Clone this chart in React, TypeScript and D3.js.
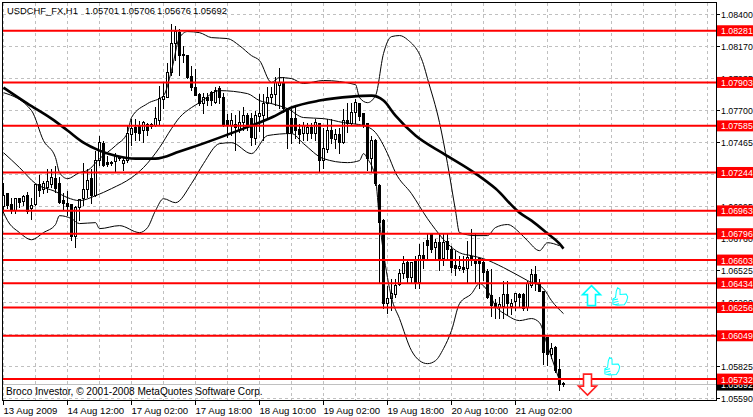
import React from 'react';
import * as d3 from 'd3';

const WIDTH = 753;
const HEIGHT = 417;

const opens = [
  1.06994, 1.07089, 1.07009, 1.06965, 1.07052, 1.07031, 1.07074, 1.06979, 1.07009, 1.07156,
  1.07119, 1.07134, 1.07156, 1.07199, 1.07163, 1.07038, 1.07016, 1.07009, 1.06775, 1.06987,
  1.07052, 1.07119, 1.07199, 1.07074, 1.07331, 1.07455, 1.07316, 1.07316, 1.07324, 1.07345,
  1.07309, 1.07331, 1.07522, 1.07573, 1.07587, 1.07551, 1.07595, 1.0758, 1.07587, 1.07624,
  1.07777, 1.07792, 1.07975, 1.08187, 1.08267, 1.08099, 1.08099, 1.07946, 1.07866, 1.07814,
  1.07748, 1.07792, 1.07828, 1.07755, 1.07858, 1.07792, 1.07624, 1.07587, 1.07595, 1.07551,
  1.07609, 1.0766, 1.07638, 1.07492, 1.07653, 1.0766, 1.07748, 1.07792, 1.07814, 1.0788,
  1.07902, 1.07711, 1.07638, 1.07638, 1.07558, 1.07529, 1.07529, 1.07573, 1.07529, 1.07602,
  1.07331, 1.07411, 1.07551, 1.07485, 1.07522, 1.07462, 1.07624, 1.07602, 1.07682, 1.07748,
  1.07675, 1.07602, 1.07345, 1.07477, 1.07148, 1.06892, 1.06284, 1.0632, 1.0635, 1.06424,
  1.06504, 1.06584, 1.06475, 1.06592, 1.06438, 1.06635, 1.06745, 1.06797, 1.06694, 1.0673,
  1.06613, 1.06738, 1.06679, 1.06562, 1.0654, 1.06548, 1.0654, 1.06628, 1.06606, 1.06613,
  1.06584, 1.06519, 1.06342, 1.06284, 1.06255, 1.06262, 1.0635, 1.06262, 1.06299, 1.0635,
  1.0635, 1.06255, 1.06416, 1.06497, 1.06431, 1.06372, 1.06036, 1.05911, 1.05962, 1.05801, 1.05699,
];

const closes = [
  1.07074, 1.07001, 1.06965, 1.07052, 1.07023, 1.07067, 1.06958, 1.07001, 1.07156, 1.07111,
  1.07163, 1.07178, 1.07206, 1.07126, 1.07023, 1.07016, 1.06994, 1.06775, 1.06987, 1.07045,
  1.07119, 1.07185, 1.07074, 1.07331, 1.07462, 1.07294, 1.07302, 1.07309, 1.07367, 1.07353,
  1.07331, 1.07529, 1.07565, 1.07536, 1.07529, 1.07609, 1.07551, 1.07595, 1.07638, 1.07784,
  1.07799, 1.07975, 1.08187, 1.08275, 1.08099, 1.08107, 1.07939, 1.07866, 1.07806, 1.07748,
  1.07792, 1.0777, 1.0777, 1.07843, 1.07792, 1.07595, 1.07587, 1.07624, 1.07573, 1.07609,
  1.0766, 1.07587, 1.07499, 1.0766, 1.07675, 1.07748, 1.07792, 1.07814, 1.07902, 1.07902,
  1.07711, 1.07529, 1.07536, 1.07551, 1.07522, 1.07587, 1.07573, 1.07529, 1.07609, 1.07331,
  1.07419, 1.07551, 1.07492, 1.07522, 1.07462, 1.07624, 1.07602, 1.07682, 1.07755, 1.07653,
  1.07587, 1.07345, 1.07477, 1.07163, 1.06877, 1.06284, 1.0632, 1.06357, 1.06416, 1.06504,
  1.06577, 1.06475, 1.06584, 1.06438, 1.06635, 1.06606, 1.06708, 1.06679, 1.0673, 1.06613,
  1.0673, 1.06679, 1.06548, 1.0654, 1.06555, 1.06533, 1.06621, 1.06599, 1.06577, 1.06577,
  1.06511, 1.06328, 1.06269, 1.06255, 1.06277, 1.0635, 1.06284, 1.06284, 1.06357, 1.06328,
  1.06248, 1.06431, 1.06497, 1.06431, 1.06372, 1.05925, 1.05911, 1.05955, 1.05794, 1.05692, 1.05692,
];

const highs = [
  1.0717, 1.07096, 1.0706, 1.0706, 1.0706, 1.07082, 1.07104, 1.0706, 1.07163, 1.07229,
  1.07185, 1.07272, 1.07272, 1.07294, 1.07214, 1.07096, 1.07111, 1.07016, 1.07001, 1.07052,
  1.07316, 1.07272, 1.07272, 1.07404, 1.07514, 1.07477, 1.07367, 1.07331, 1.07389, 1.07367,
  1.07353, 1.07587, 1.07638, 1.07638, 1.07624, 1.07624, 1.07609, 1.07609, 1.07726, 1.0788,
  1.07902, 1.08048, 1.08334, 1.08319, 1.08297, 1.08172, 1.08099, 1.08026, 1.08004, 1.07828,
  1.07828, 1.07828, 1.07843, 1.07873, 1.0788, 1.07828, 1.07675, 1.07682, 1.07668, 1.07697,
  1.07726, 1.07682, 1.07682, 1.07697, 1.07821, 1.07821, 1.07866, 1.07866, 1.07939, 1.08012,
  1.07939, 1.07719, 1.07711, 1.07733, 1.07602, 1.07616, 1.07609, 1.07609, 1.07638, 1.07609,
  1.07573, 1.07638, 1.07638, 1.07565, 1.07573, 1.07711, 1.07755, 1.07755, 1.07784, 1.07755,
  1.07682, 1.07609, 1.07514, 1.07492, 1.07163, 1.06906, 1.06416, 1.06467, 1.06467, 1.0654,
  1.06635, 1.06599, 1.06592, 1.06635, 1.06723, 1.06738, 1.06804, 1.06804, 1.0676, 1.06804,
  1.06804, 1.06804, 1.06708, 1.06672, 1.06635, 1.06635, 1.06745, 1.06833, 1.06804, 1.06613,
  1.06599, 1.0654, 1.0654, 1.0632, 1.06335, 1.06453, 1.06453, 1.0632, 1.06365, 1.06365,
  1.06365, 1.06453, 1.0654, 1.06562, 1.06467, 1.06379, 1.06043, 1.05998, 1.05976, 1.05881, 1.05714,
];

const lows = [
  1.0695, 1.06979, 1.06943, 1.06943, 1.06987, 1.07001, 1.06943, 1.06899, 1.07001, 1.07067,
  1.07089, 1.07096, 1.07134, 1.07096, 1.07016, 1.06965, 1.06928, 1.06745, 1.06694, 1.06892,
  1.07001, 1.0706, 1.07016, 1.07067, 1.07294, 1.07287, 1.07287, 1.07294, 1.07243, 1.07331,
  1.07258, 1.07316, 1.0744, 1.07477, 1.07477, 1.07462, 1.07514, 1.07565, 1.0758, 1.07587,
  1.07711, 1.07792, 1.07953, 1.08063, 1.07953, 1.08048, 1.07931, 1.07843, 1.07806, 1.07733,
  1.07675, 1.07733, 1.07733, 1.07748, 1.07748, 1.0758, 1.07499, 1.07514, 1.07404, 1.07536,
  1.07551, 1.07551, 1.0744, 1.07448, 1.07543, 1.07477, 1.07638, 1.07748, 1.07733, 1.07711,
  1.07682, 1.07419, 1.07455, 1.07492, 1.07455, 1.07477, 1.07477, 1.07492, 1.07477, 1.07243,
  1.07272, 1.07389, 1.07455, 1.07419, 1.07382, 1.07455, 1.07536, 1.07587, 1.07602, 1.07624,
  1.07573, 1.07258, 1.07243, 1.07148, 1.06438, 1.06248, 1.06211, 1.06233, 1.06328, 1.06416,
  1.06467, 1.06438, 1.06431, 1.06394, 1.06394, 1.0654, 1.06613, 1.06657, 1.06599, 1.06526,
  1.06562, 1.06599, 1.06511, 1.06489, 1.06526, 1.06511, 1.06438, 1.06562, 1.06438, 1.06394,
  1.06453, 1.0632, 1.06189, 1.06175, 1.06175, 1.06175, 1.06197, 1.06204, 1.06233, 1.06255,
  1.06233, 1.06233, 1.06401, 1.06379, 1.06372, 1.05838, 1.05831, 1.05881, 1.05779, 1.05648, 1.05677,
];

// indicator curves, read at the bars where they bend: [bar, price]
const upperBand = [
  [0, 1.07828], [7, 1.07697], [10, 1.07477], [13, 1.07353], [14, 1.07243], [16, 1.07199], [19, 1.07243],
  [21, 1.07258], [24, 1.07345], [28, 1.0744], [31, 1.07536], [32, 1.07646], [36, 1.07748], [40, 1.07806],
  [42, 1.0799], [44, 1.08231], [46, 1.08275], [49, 1.08267], [52, 1.08231], [56, 1.08224], [59, 1.08172],
  [62, 1.08099], [64, 1.08063], [67, 1.07902], [69, 1.07939], [72, 1.07931], [75, 1.07895], [80, 1.07917],
  [88, 1.07887], [89, 1.07792], [91, 1.07755], [93, 1.07806], [95, 1.08114], [97, 1.08238], [99, 1.08246],
  [101, 1.08216], [105, 1.08034], [106, 1.07931], [109, 1.07609], [111, 1.07309], [113, 1.06965], [114, 1.06804],
  [118, 1.06782], [121, 1.06782], [123, 1.06841], [126, 1.06863], [129, 1.06804], [131, 1.06745], [134, 1.06672],
  [136, 1.0673], [139, 1.06708],
];

const middleBand = [
  [0, 1.07389], [4, 1.0728], [8, 1.07163], [13, 1.07104], [16, 1.0706], [19, 1.07038], [23, 1.07074],
  [27, 1.07126], [32, 1.07206], [35, 1.0728], [39, 1.07426], [42, 1.07565], [44, 1.07646], [47, 1.07719],
  [49, 1.07755], [54, 1.07843], [61, 1.07821], [64, 1.0777], [67, 1.07748], [71, 1.07711], [75, 1.07646],
  [80, 1.07638], [85, 1.07609], [90, 1.07587], [93, 1.07536], [96, 1.07382], [98, 1.07243], [102, 1.07089],
  [106, 1.06906], [108, 1.06826], [111, 1.06723], [114, 1.06657], [117, 1.06635], [120, 1.06613], [125, 1.06548],
  [131, 1.06453], [135, 1.06394], [137, 1.06306], [140, 1.06211],
];

const lowerBand = [
  [0, 1.0695], [1, 1.06892], [4, 1.06804], [7, 1.06752], [10, 1.06804], [13, 1.06863], [14, 1.06928],
  [17, 1.06906], [19, 1.0687], [23, 1.06877], [24, 1.06833], [29, 1.06855], [34, 1.06804], [36, 1.0684],
  [38, 1.06965], [40, 1.07052], [43, 1.07023], [47, 1.07163], [50, 1.07309], [54, 1.07455], [57, 1.07462],
  [62, 1.07382], [66, 1.07514], [72, 1.07529], [75, 1.07455], [80, 1.07345], [86, 1.07316], [89, 1.07331],
  [90, 1.07382], [91, 1.07345], [93, 1.07199], [94, 1.06892], [96, 1.06475], [97, 1.06328], [99, 1.06175],
  [102, 1.0594], [104, 1.05867], [106, 1.05845], [108, 1.05867], [110, 1.05955], [112, 1.06087], [114, 1.06284],
  [117, 1.06357], [119, 1.06431], [121, 1.06379], [123, 1.06269], [126, 1.06197], [129, 1.0616], [132, 1.06175],
  [134, 1.06145], [136, 1.05976], [139, 1.05721],
];

const movingAverage = [
  [0, 1.07865], [6, 1.07748], [12, 1.07638], [16, 1.07551], [20, 1.07462], [24, 1.07404], [28, 1.07367],
  [33, 1.07345], [38, 1.07345], [44, 1.07397], [47, 1.07426], [54, 1.07499], [60, 1.07565], [67, 1.07646],
  [72, 1.07719], [79, 1.0777], [87, 1.07799], [92, 1.07806], [95, 1.0777], [98, 1.0766], [103, 1.07514],
  [110, 1.07382], [118, 1.07236], [123, 1.07126], [129, 1.0695], [132, 1.06892], [136, 1.06797], [139, 1.06723],
  [140, 1.06687],
];

const levels = [1.08281, 1.07903, 1.07585, 1.07244, 1.06963, 1.06796, 1.06603, 1.06434, 1.06256, 1.06049, 1.05732];
const priceTicks = [1.084, 1.0817, 1.07935, 1.077, 1.07465, 1.0723, 1.06995, 1.0676, 1.06525, 1.0629, 1.06055, 1.05825, 1.0559];
const timeLabels = [
  '13 Aug 2009', '14 Aug 12:00', '17 Aug 02:00', '17 Aug 18:00', '18 Aug 10:00',
  '19 Aug 02:00', '19 Aug 18:00', '20 Aug 10:00', '21 Aug 02:00',
];
const headerQuote = [1.05701, 1.05706, 1.05676, 1.05692];
const headerX = [85, 121, 157, 193];
const bidPrice = 1.05692;

// chart objects to the right of the last bar: [bar, price]
const upArrow = [147, 1.06343];
const downArrow = [146, 1.05695];
const thumbs = [[154, 1.06336], [152, 1.05825]];

const font = "'Liberation Sans', Arial, sans-serif";

const x = d3.scaleLinear().domain([0, 1]).range([3.5, 7.5]);
const y = d3.scaleLinear().domain([1.084, 1.0559]).range([14.5, 398.5]);

const curve = d3.line<number[]>()
  .x(d => x(d[0]))
  .y(d => y(d[1]))
  .curve(d3.curveMonotoneX);

const xGrid = d3.range(0, 180, 8).map(b => x(b));
const yGrid = priceTicks.map((_, i) => 14.5 + 32 * i);

const Thumb: React.FC<{ cx: number; cy: number }> = ({ cx, cy }) => (
  <g transform={`translate(${cx - 8},${cy - 9}) rotate(-12 8 9)`} fill="#fff" stroke="#00ffff" strokeWidth={1}>
    <path d="M4 9 L6 3 L8 0 L10 2 L9 7 L15 8 L16 11 L14 15 L11 18 L4 17 L0 15 L1 10 Z" />
    <path d="M1 11 H6 M1 13.5 H6 M2 16 H6" fill="none" />
  </g>
);

export default function App() {
  return (
    <svg width={WIDTH} height={HEIGHT} style={{ display: 'block', position: 'absolute', left: 0, top: 0, background: '#fff' }}>
      {xGrid.filter(v => v < 716).map(v => (
        <line key={v} x1={v} x2={v} y1={3} y2={400} stroke="#c0c0c0" strokeDasharray="3 3" shapeRendering="crispEdges" />
      ))}
      {yGrid.map(v => (
        <line key={v} x1={3} x2={716} y1={v} y2={v} stroke="#c0c0c0" strokeDasharray="3 3" shapeRendering="crispEdges" />
      ))}

      <line x1={3} x2={716} y1={y(bidPrice)} y2={y(bidPrice)} stroke="#c0c0c0" shapeRendering="crispEdges" />

      {opens.map((o, i) => {
        const c = closes[i];
        const top = y(Math.max(o, c));
        const h = Math.max(1, y(Math.min(o, c)) - top);
        return (
          <g key={i} shapeRendering="crispEdges">
            <line x1={x(i)} x2={x(i)} y1={y(highs[i])} y2={y(lows[i])} stroke="#000" />
            <rect x={x(i) - 1} y={top} width={2} height={h} fill={c >= o ? '#fff' : '#000'} stroke="#000" />
          </g>
        );
      })}

      <path d={curve(upperBand) ?? ''} fill="none" stroke="#000" strokeWidth={1} />
      <path d={curve(middleBand) ?? ''} fill="none" stroke="#000" strokeWidth={1} />
      <path d={curve(lowerBand) ?? ''} fill="none" stroke="#000" strokeWidth={1} />
      <path d={curve(movingAverage) ?? ''} fill="none" stroke="#000" strokeWidth={2.6} />

      {levels.map(l => (
        <line key={l} x1={3} x2={716} y1={y(l)} y2={y(l)} stroke="#ff0000" strokeWidth={2} />
      ))}

      <polygon
        transform={`translate(${x(upArrow[0])},${y(upArrow[1])})`}
        points="0,-10 9,-1 4,-1 4,10 -4,10 -4,-1 -9,-1"
        fill="#fff" stroke="#00ffff" strokeWidth={1.6}
      />
      <polygon
        transform={`translate(${x(downArrow[0])},${y(downArrow[1])})`}
        points="0,11 9,2 4,2 4,-10 -4,-10 -4,2 -9,2"
        fill="#fff" stroke="#ff2020" strokeWidth={1.6}
      />
      {thumbs.map(t => <Thumb key={t[0]} cx={x(t[0])} cy={y(t[1])} />)}

      <g fontFamily={font} fill="#000">
        <g fontSize={9.4}>
          <text x={7} y={14}>USDCHF_FX,H1</text>
          {headerQuote.map((q, i) => <text key={i} x={headerX[i]} y={14}>{q.toFixed(5)}</text>)}
        </g>
        <text x={6} y={395} fontSize={10.1}>Broco Investor, © 2001-2008 MetaQuotes Software Corp.</text>

        {timeLabels.map((t, i) => (
          <g key={t}>
            <line x1={x(i * 16)} x2={x(i * 16)} y1={400} y2={405} stroke="#000" shapeRendering="crispEdges" />
            <text x={x(i * 16)} y={413.5} fontSize={9.6}>{t}</text>
          </g>
        ))}

        <g fontSize={8.8}>
          {priceTicks.map((p, i) => (
            <g key={p}>
              <line x1={716} x2={720} y1={yGrid[i]} y2={yGrid[i]} stroke="#000" shapeRendering="crispEdges" />
              <text x={721} y={yGrid[i] + 3}>{p.toFixed(5)}</text>
            </g>
          ))}

          <rect x={717} y={y(bidPrice) - 5} width={36} height={11} fill="#000" />
          <text x={721} y={y(bidPrice) + 3.5} fill="#fff">{bidPrice.toFixed(5)}</text>

          {levels.map(l => (
            <g key={l}>
              <rect x={717} y={y(l) - 5.5} width={36} height={11} fill="#ff0000" />
              <text x={721} y={y(l) + 3.5} fill="#fff">{l.toFixed(5)}</text>
            </g>
          ))}
        </g>
      </g>

      <path d="M2.5 2.5 H716.5 V400.5 H2.5 Z" fill="none" stroke="#000" shapeRendering="crispEdges" />
    </svg>
  );
}
